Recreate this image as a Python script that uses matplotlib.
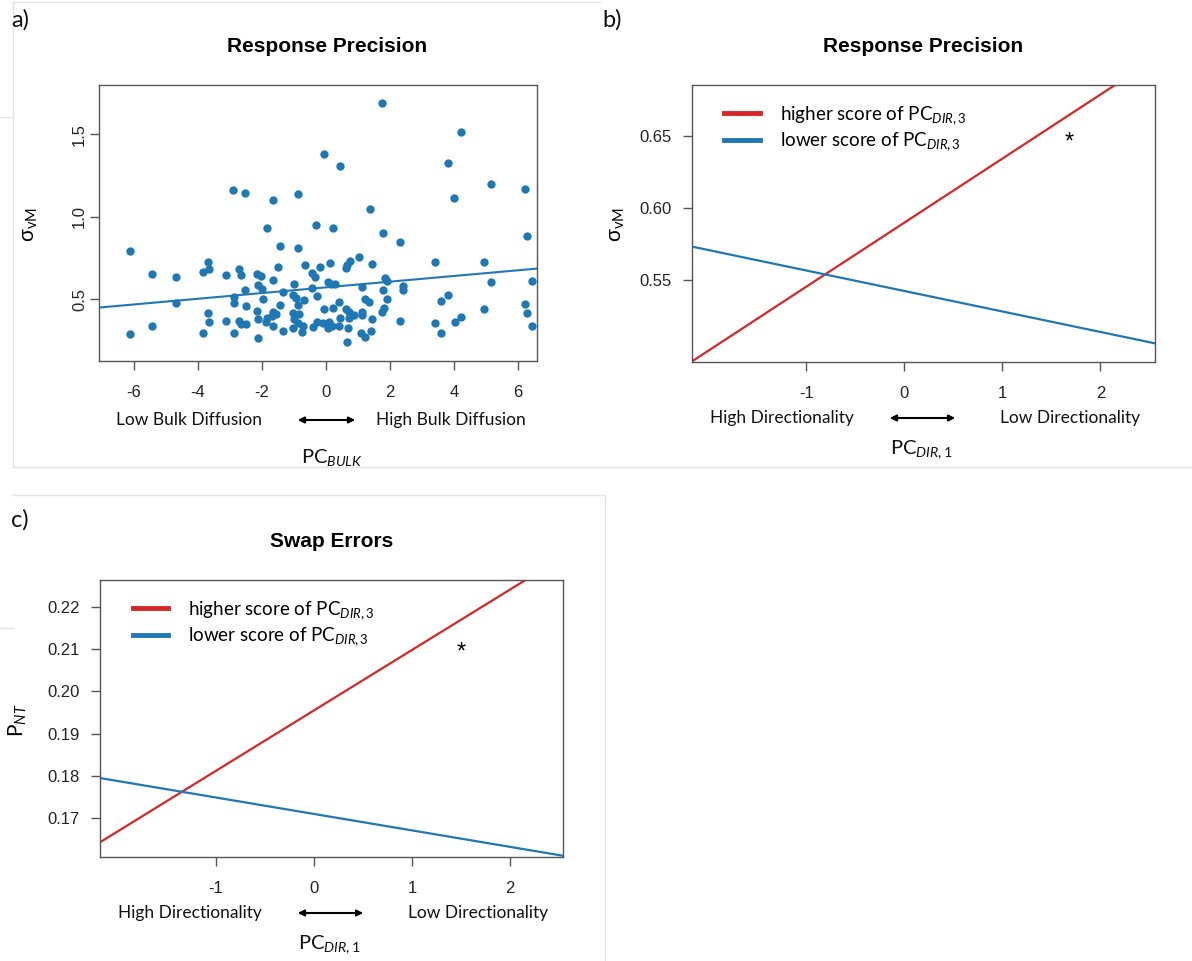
import numpy as np
import matplotlib
matplotlib.use("Agg")
import matplotlib.pyplot as plt
from matplotlib.lines import Line2D

plt.rcParams['font.family'] = ['Liberation Sans', 'DejaVu Sans']
plt.rcParams['mathtext.fontset'] = 'custom'
plt.rcParams['mathtext.rm'] = 'Lato'
plt.rcParams['mathtext.it'] = 'Lato:italic'
plt.rcParams['axes.unicode_minus'] = False

# ---- data: panel a (PC_BULK vs sigma_vM) ----
pc_bulk = [-6.12, -5.42, -4.68, -3.68, -3.83, -3.64, -3.11, -2.71, -2.64, -2.51,
           -2.87, -2.85, -4.68, -3.67, -3.64, -3.11, -2.71, -2.63, -5.42, -6.12,
           -3.83, -2.85, -2.48, -2.48, -1.82, -0.30, 0.23, 1.78, -1.42, -0.88,
           1.05, 0.77, 0.68, 0.62, 0.12, -0.17, -0.66, -1.49, 1.44, -2.13,
           -2.03, -0.43, -0.33, -1.66, -0.98, 0.06, 0.16, 0.28, 1.13, 1.86,
           1.92, -2.10, -1.98, -1.32, -0.42, -1.01, -0.94, -0.28, 1.78, -1.96,
           -1.42, -0.69, -0.88, -2.15, -1.66, -1.55, -1.01, -0.82, -0.04, 0.24,
           0.42, 0.64, 0.74, 1.13, 1.23, 1.36, 1.92, 1.83, 1.76, 1.13,
           -2.10, -1.82, -1.68, -1.86, -1.63, -0.98, -0.88, -0.71, -0.40, -0.26,
           -0.07, 0.09, 0.06, 0.19, 0.45, 0.43, 0.73, 0.71, 0.87, 1.10,
           1.23, 1.41, 1.44, -1.34, -1.01, -0.74, -2.10, 0.68, 2.33, 6.29,
           3.42, 4.93, 2.41, 2.41, 5.17, 6.44, 3.82, 3.60, 6.23, 4.93,
           6.29, 2.33, 3.42, 4.03, 4.23, 3.60, 6.44, -2.88, -2.52, -1.63,
           -0.88, 1.76, -0.05, 0.45, 4.23, 3.81, 5.16, 6.23, 4.02, 1.39]
sigma_vm = [0.79, 0.652, 0.634, 0.723, 0.666, 0.680, 0.646, 0.680, 0.646, 0.555,
            0.514, 0.474, 0.478, 0.413, 0.360, 0.365, 0.368, 0.350, 0.334, 0.287,
            0.294, 0.294, 0.457, 0.346, 0.929, 0.949, 0.929, 0.899, 0.824, 0.811,
            0.757, 0.731, 0.706, 0.686, 0.720, 0.692, 0.706, 0.692, 0.711, 0.650,
            0.640, 0.656, 0.632, 0.615, 0.593, 0.605, 0.589, 0.589, 0.575, 0.626,
            0.611, 0.585, 0.561, 0.544, 0.569, 0.524, 0.504, 0.520, 0.555, 0.500,
            0.464, 0.494, 0.464, 0.427, 0.419, 0.407, 0.413, 0.407, 0.439, 0.447,
            0.484, 0.439, 0.419, 0.419, 0.500, 0.484, 0.500, 0.444, 0.423, 0.403,
            0.379, 0.383, 0.399, 0.362, 0.336, 0.379, 0.352, 0.336, 0.332, 0.362,
            0.352, 0.362, 0.326, 0.336, 0.386, 0.338, 0.383, 0.322, 0.403, 0.292,
            0.271, 0.306, 0.377, 0.306, 0.322, 0.301, 0.265, 0.237, 0.844, 0.883,
            0.726, 0.726, 0.581, 0.555, 0.601, 0.609, 0.524, 0.490, 0.470, 0.439,
            0.417, 0.366, 0.352, 0.359, 0.393, 0.295, 0.336, 1.162, 1.142, 1.101,
            1.138, 1.688, 1.380, 1.308, 1.512, 1.324, 1.196, 1.166, 1.111, 1.046]
fit_a = (0.0173, 0.571)          # slope, intercept of regression line

# ---- data: panels b and c (model predictions) ----
fit_b_high = (0.0444, 0.5897)
fit_b_low = (-0.0142, 0.5424)
fit_c_high = (0.01432, 0.1955)
fit_c_low = (-0.0039, 0.1710)
star_b = (1.68, 0.645)
star_c = (1.50, 0.2092)

W, H = 1192, 961
BLUE = '#1f77b4'
RED = '#d62728'
BOX = '#555555'


def fpos(x, y):
    return x / W, 1 - y / H


def add_axes(l, t, r, b):
    return fig.add_axes([l / W, 1 - b / H, (r - l) / W, (b - t) / H])


def style(ax):
    for s in ax.spines.values():
        s.set_color(BOX)
        s.set_linewidth(1.0)
    ax.tick_params(colors=BOX, labelcolor='#222222', length=6.5, width=1.0,
                   labelsize=12)
    ax.tick_params(axis='x', pad=11)


def annot_text(x, y, s, size=12.5, ha='center'):
    fig.text(*fpos(x, y), s, ha=ha, va='center', fontsize=size,
             family=['Lato', 'DejaVu Sans'], color='#111111')


def arrow(x0, x1, y):
    fig.add_artist(matplotlib.patches.FancyArrowPatch(
        fpos(x0, y), fpos(x1, y), transform=fig.transFigure,
        arrowstyle='<|-|>', mutation_scale=9, lw=1.5, color='black'))


def legend(ax):
    handles = [Line2D([], [], color=RED, lw=3.5), Line2D([], [], color=BLUE, lw=3.5)]
    ax.legend(handles, ['higher score of PC$_{\\mathit{DIR,3}}$',
                        'lower score of PC$_{\\mathit{DIR,3}}$'],
              loc='upper left', bbox_to_anchor=(0.05, 0.965), frameon=False,
              borderpad=0, handlelength=1.9, handletextpad=1.05,
              labelspacing=0.22, prop={'family': 'Lato', 'size': 13.5})


fig = plt.figure(figsize=(W / 100, H / 100), dpi=100)

# faint screenshot frames
for (x0, y0, x1, y1) in [(13, 2, 600, 2), (13, 2, 13, 467), (13, 467, 600, 467),
                         (600, 467, 1192, 467), (13, 495, 605, 495),
                         (605, 495, 605, 961), (0, 117, 13, 117), (0, 628, 13, 628)]:
    fig.add_artist(Line2D([x0 / W, x1 / W], [1 - y0 / H, 1 - y1 / H],
                          transform=fig.transFigure, color='#e3e3e3', lw=1))

# ---- panel a ----
ax = add_axes(99, 85, 537, 361)
ax.scatter(pc_bulk, sigma_vm, s=36, color=BLUE, linewidths=0, zorder=3)
xx = np.array([-8, 8])
ax.plot(xx, fit_a[0] * xx + fit_a[1], color=BLUE, lw=1.5)
ax.set_xlim(-7.08, 6.6)
ax.set_ylim(0.124, 1.80)
ax.set_xticks([-6, -4, -2, 0, 2, 4, 6])
ax.set_yticks([0.5, 1.0, 1.5])
ax.set_yticklabels(['0.5', '1.0', '1.5'], rotation=90, va='center')
style(ax)
ax.tick_params(axis='y', pad=2)
ax.set_title('Response Precision', fontsize=15, fontweight='bold', pad=24, x=0.52)
fig.text(*fpos(30, 225), 'σ$_{\\mathrm{vM}}$', rotation=90, ha='center',
         va='center', fontsize=15)
annot_text(189, 420, 'Low Bulk Diffusion')
annot_text(451, 420, 'High Bulk Diffusion')
arrow(295, 358, 420)
annot_text(332, 457, 'PC$_{\\mathit{BULK}}$', size=14.5)
annot_text(20, 20, 'a)', size=17)

# ---- panel b ----
ax = add_axes(691.7, 85, 1155, 361.7)
xx = np.array([-3, 3])
ax.plot(xx, fit_b_high[0] * xx + fit_b_high[1], color=RED, lw=1.6)
ax.plot(xx, fit_b_low[0] * xx + fit_b_low[1], color=BLUE, lw=1.6)
ax.text(*star_b, '*', fontsize=17, ha='center', va='center')
ax.set_xlim(-2.167, 2.556)
ax.set_ylim(0.4934, 0.6851)
ax.set_xticks([-1, 0, 1, 2])
ax.set_yticks([0.55, 0.60, 0.65])
ax.set_yticklabels(['0.55', '0.60', '0.65'])
style(ax)
ax.tick_params(axis='y', pad=8)
ax.set_title('Response Precision', fontsize=15, fontweight='bold', pad=24)
legend(ax)
fig.text(*fpos(618, 225), 'σ$_{\\mathrm{vM}}$', rotation=90, ha='center',
         va='center', fontsize=15)
annot_text(782, 418, 'High Directionality')
annot_text(1070, 418, 'Low Directionality')
arrow(887, 958, 418)
annot_text(922, 450, 'PC$_{\\mathit{DIR,}}$$_{1}$', size=14.5)
annot_text(612, 20, 'b)', size=17)

# ---- panel c ----
ax = add_axes(100, 580, 563, 857)
xx = np.array([-3, 3])
ax.plot(xx, fit_c_high[0] * xx + fit_c_high[1], color=RED, lw=1.6)
ax.plot(xx, fit_c_low[0] * xx + fit_c_low[1], color=BLUE, lw=1.6)
ax.text(*star_c, '*', fontsize=17, ha='center', va='center')
ax.set_xlim(-2.18, 2.54)
ax.set_ylim(0.1608, 0.2264)
ax.set_xticks([-1, 0, 1, 2])
ax.set_yticks([0.17, 0.18, 0.19, 0.20, 0.21, 0.22])
ax.set_yticklabels(['0.17', '0.18', '0.19', '0.20', '0.21', '0.22'])
style(ax)
ax.tick_params(axis='y', pad=8)
ax.set_title('Swap Errors', fontsize=15, fontweight='bold', pad=24)
legend(ax)
fig.text(*fpos(18, 720), 'P$_{\\mathit{NT}}$', rotation=90, ha='center',
         va='center', fontsize=15, family='Lato')
annot_text(190, 913, 'High Directionality')
annot_text(478, 913, 'Low Directionality')
arrow(295, 366, 913)
annot_text(330, 945, 'PC$_{\\mathit{DIR,}}$$_{1}$', size=14.5)
annot_text(20, 520, 'c)', size=17)

fig.savefig('out.png', dpi=100)
